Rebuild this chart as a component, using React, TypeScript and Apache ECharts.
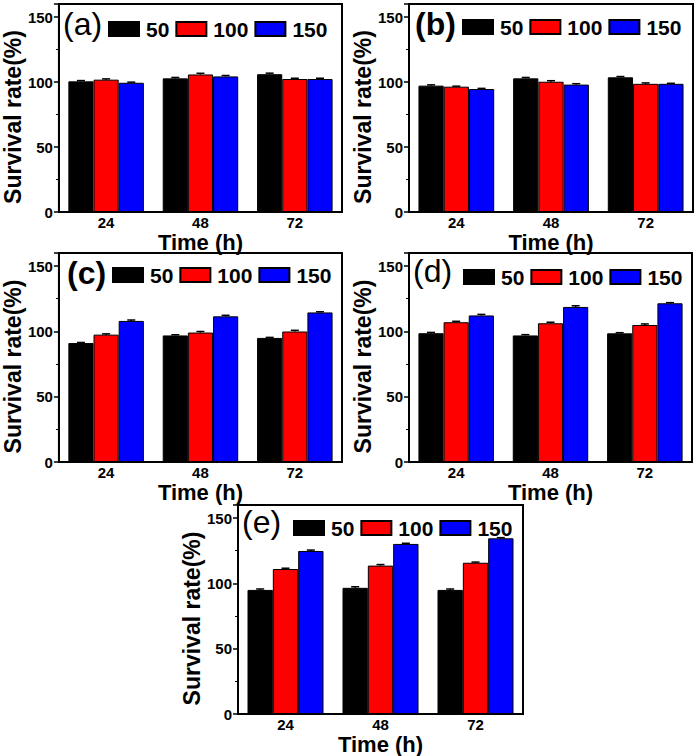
import React, { useEffect, useRef } from "react";
import * as echarts from "echarts";

// ---- data ----
const categories = ["24", "48", "72"];
const seriesNames = ["50", "100", "150"];
const panelLabels = ["(a)", "(b)", "(c)", "(d)", "(e)"];
const yTickMax = 160;
const yTickInterval = 50;

const aBlack = [100.5, 102.8, 106.0];
const aRed = [101.8, 105.8, 102.3];
const aBlue = [99.4, 104.3, 102.3];
const aErr = [[0.6, 0.7, 0.8], [0.6, 0.9, 0.6], [0.5, 0.7, 0.6]];

const bBlack = [97.2, 102.8, 103.6];
const bRed = [96.4, 100.2, 98.6];
const bBlue = [94.6, 98.0, 98.6];
const bErr = [[0.6, 0.7, 0.6], [0.4, 0.8, 0.7], [0.5, 0.7, 0.4]];

const cBlack = [91.1, 96.9, 95.0];
const cRed = [97.5, 99.1, 99.9];
const cBlue = [108.0, 111.5, 114.5];
const cErr = [[0.4, 0.5, 0.4], [0.6, 0.8, 0.9], [0.7, 0.8, 0.5]];

const dBlack = [98.6, 96.9, 98.5];
const dRed = [107.0, 106.2, 104.9];
const dBlue = [112.2, 118.7, 121.5];
const dErr = [[0.6, 0.6, 0.5], [0.7, 0.8, 0.8], [0.8, 0.9, 0.5]];

const eBlack = [95.0, 96.6, 95.0];
const eRed = [111.0, 113.6, 115.8];
const eBlue = [124.8, 130.2, 134.5];
const eErr = [[0.7, 0.8, 0.7], [0.6, 0.8, 0.5], [0.7, 0.5, 0.5]];

const panelValues = [
  [aBlack, aRed, aBlue],
  [bBlack, bRed, bBlue],
  [cBlack, cRed, cBlue],
  [dBlack, dRed, dBlue],
  [eBlack, eRed, eBlue],
];
const panelErrors = [aErr, bErr, cErr, dErr, eErr];

// ---- style / layout ----
const colors = ["#000000", "#ff0000", "#0000ff"];
const FONT = "'Liberation Sans', Arial, Helvetica, sans-serif";
const layout = [
  { left: 58, top: 4, width: 284, height: 208, tl: 63, tt: 8, bold: false, ll: 108, lt: 17 },
  { left: 409, top: 4, width: 284, height: 208, tl: 415, tt: 8, bold: true, ll: 462, lt: 15 },
  { left: 58, top: 253, width: 284, height: 209, tl: 67, tt: 257, bold: true, ll: 112, lt: 263 },
  { left: 409, top: 253, width: 283, height: 209, tl: 413, tt: 255, bold: false, ll: 463, lt: 265 },
  { left: 238, top: 505, width: 285, height: 210, tl: 242, tt: 506, bold: false, ll: 293, lt: 516 },
];

function errorRender(params: any, api: any) {
  const cat = api.value(0);
  const s = api.value(1);
  const v = api.value(2);
  const e = api.value(3);
  const band = api.size([1, 0])[0];
  const bw = (band * 0.8) / 3;
  const base = api.coord([cat, v]);
  const top = api.coord([cat, v + e]);
  const x = base[0] + (s - 1) * bw;
  const style = { stroke: "#000", lineWidth: 1.5 };
  return {
    type: "group",
    children: [
      { type: "line", shape: { x1: x, y1: base[1], x2: x, y2: top[1] }, style },
      { type: "line", shape: { x1: x - 4, y1: top[1], x2: x + 4, y2: top[1] }, style },
    ],
  };
}

function buildOption() {
  const series: any[] = [];
  panelValues.forEach((vals, i) => {
    vals.forEach((arr, s) => {
      series.push({
        type: "bar",
        name: seriesNames[s],
        xAxisIndex: i,
        yAxisIndex: i,
        data: arr,
        barGap: "0%",
        barCategoryGap: "20%",
        itemStyle: { color: colors[s], borderColor: "#000", borderWidth: 1 },
      });
    });
    const errData: any[] = [];
    vals.forEach((arr, s) => {
      arr.forEach((v, c) => errData.push([c, s, v, panelErrors[i][s][c]]));
    });
    series.push({
      type: "custom",
      name: "err" + i,
      xAxisIndex: i,
      yAxisIndex: i,
      data: errData,
      encode: { x: 0, y: 2 },
      renderItem: errorRender,
      z: 10,
      silent: true,
    });
  });

  return {
    animation: false,
    backgroundColor: "#ffffff",
    textStyle: { fontFamily: FONT },
    title: layout.map((l, i) => ({
      text: panelLabels[i],
      left: l.tl,
      top: l.tt,
      padding: 0,
      textStyle: { fontSize: 32, fontWeight: l.bold ? "bold" : "normal", color: "#000", fontFamily: FONT },
    })),
    legend: layout.map((l) => ({
      data: seriesNames,
      left: l.ll,
      top: l.lt,
      padding: 0,
      itemWidth: 30,
      itemHeight: 14,
      itemGap: 6,
      icon: "rect",
      selectedMode: false,
      textStyle: {
        fontSize: 21,
        fontWeight: "bold",
        color: "#000",
        fontFamily: FONT,
        lineHeight: 24,
        padding: [0, 0, 0, 2],
      },
    })),
    grid: layout.map((l) => ({
      left: l.left,
      top: l.top,
      width: l.width,
      height: l.height,
      show: true,
      borderColor: "#000",
      borderWidth: 2,
      backgroundColor: "transparent",
      containLabel: false,
    })),
    xAxis: layout.map((l, i) => ({
      type: "category",
      gridIndex: i,
      data: categories,
      axisLine: { lineStyle: { color: "#000", width: 2 } },
      axisTick: { show: false },
      axisLabel: { color: "#000", fontWeight: "bold", fontSize: 15, margin: 3, fontFamily: FONT },
      name: "Time (h)",
      nameLocation: "middle",
      nameGap: 19,
      nameTextStyle: { fontSize: 22, fontWeight: "bold", color: "#000", fontFamily: FONT },
    })),
    yAxis: layout.map((l, i) => ({
      type: "value",
      gridIndex: i,
      min: 0,
      max: yTickMax,
      interval: yTickInterval,
      axisLine: { show: true, lineStyle: { color: "#000", width: 2 } },
      axisTick: { show: true, length: 5, lineStyle: { color: "#000", width: 1.5 } },
      minorTick: { show: true, splitNumber: 2, length: 3, lineStyle: { color: "#000", width: 1 } },
      splitLine: { show: false },
      axisLabel: {
        color: "#000",
        fontWeight: "bold",
        fontSize: 15,
        margin: 6,
        fontFamily: FONT,
        showMaxLabel: false,
        formatter: (v: number) => (v % yTickInterval === 0 ? String(v) : ""),
      },
      name: "Survival rate(%)",
      nameLocation: "middle",
      nameGap: 34,
      nameRotate: 90,
      nameTextStyle: {
        fontSize: 23,
        fontWeight: "bold",
        color: "#000",
        fontFamily: FONT,
        padding: [0, 18, 0, 0],
      },
    })),
    series,
  };
}

export default function App() {
  const ref = useRef<HTMLDivElement>(null);
  useEffect(() => {
    if (!ref.current) return;
    const chart = echarts.init(ref.current, undefined, { renderer: "svg" });
    chart.setOption(buildOption() as any);
    return () => chart.dispose();
  }, []);
  return (
    <div
      ref={ref}
      style={{ position: "fixed", left: 0, top: 0, width: 700, height: 756, background: "#fff" }}
    />
  );
}
